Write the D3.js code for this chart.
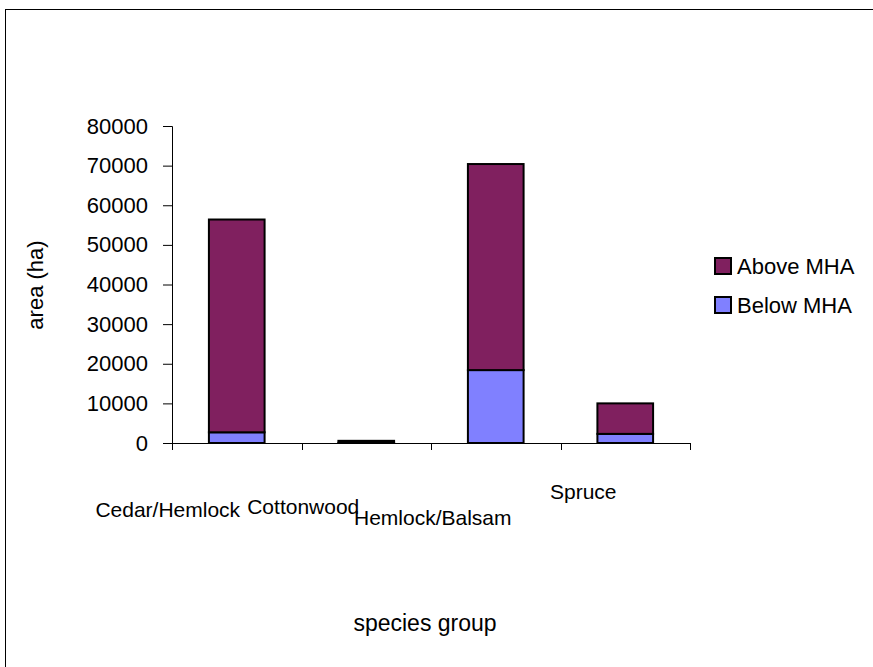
<!DOCTYPE html>
<html>
<head>
<meta charset="utf-8">
<script src="https://cdn.jsdelivr.net/npm/d3@7"></script>
<style>
  html, body { margin: 0; padding: 0; background: #fff; }
  svg { display: block; font-family: "Liberation Sans", Arial, sans-serif; }
</style>
</head>
<body>
<svg id="chart" width="873" height="667"></svg>
<script>
// Forest area by species group, split at the MHA threshold (hectares)
const categories = ["Cedar/Hemlock", "Cottonwood", "Hemlock/Balsam", "Spruce"];
const belowMHA = [2700, 50, 18400, 2300];
const aboveMHA = [53700, 500, 52000, 7700];
const seriesNames = ["Above MHA", "Below MHA"];
const yTicks = [0, 10000, 20000, 30000, 40000, 50000, 60000, 70000, 80000];

const colors = { "Above MHA": "#80205f", "Below MHA": "#8080ff" };

// Category labels sit staggered below the axis
const labelLayout = [
  { dx: -69, y: 517 },
  { dx: -63, y: 514 },
  { dx: -63, y: 525 },
  { dx: -42, y: 499 }
];

const svg = d3.select("#chart");
const W = 873, H = 667;
const plot = { left: 172, right: 690, top: 126, bottom: 443 };

// Outer chart border (runs off the right and bottom edges)
svg.append("rect")
  .attr("x", 5.5).attr("y", 9.5)
  .attr("width", W + 10).attr("height", H + 10)
  .attr("fill", "none").attr("stroke", "#000").attr("stroke-width", 1);

const x = d3.scaleBand().domain(categories).range([plot.left, plot.right]).padding(0);
const y = d3.scaleLinear().domain([0, 80000]).range([plot.bottom, plot.top]);

const rows = categories.map((c, i) => ({ cat: c, "Below MHA": belowMHA[i], "Above MHA": aboveMHA[i] }));
const stack = d3.stack().keys(["Below MHA", "Above MHA"])(rows);

// Y axis
const yAxis = d3.axisLeft(y).tickValues(yTicks).tickSize(9).tickPadding(15).tickFormat(d3.format("d"));
const gy = svg.append("g").attr("transform", `translate(${plot.left},0)`).call(yAxis);
gy.select(".domain").attr("stroke", "#000");
gy.selectAll(".tick line").attr("stroke", "#000");
gy.selectAll(".tick text").attr("font-size", 22).attr("fill", "#000")
  .attr("font-family", "Liberation Sans, Arial, sans-serif");

// X axis line and ticks at category boundaries
const bounds = categories.map(c => x(c)).concat([x(categories[categories.length - 1]) + x.bandwidth()]);
svg.append("line")
  .attr("x1", plot.left).attr("x2", plot.right)
  .attr("y1", y(0) + 0.5).attr("y2", y(0) + 0.5)
  .attr("stroke", "#000");
svg.selectAll(".xtick").data(bounds).enter().append("line")
  .attr("class", "xtick")
  .attr("x1", d => Math.round(d) + 0.5).attr("x2", d => Math.round(d) + 0.5)
  .attr("y1", y(0)).attr("y2", y(0) + 7)
  .attr("stroke", "#000");

// Stacked bars
const barW = x.bandwidth() * 0.43;
stack.forEach(layer => {
  svg.append("g").selectAll("rect").data(layer).enter().append("rect")
    .attr("x", d => x(d.data.cat) + (x.bandwidth() - barW) / 2)
    .attr("y", d => y(d[1]))
    .attr("width", barW)
    .attr("height", d => y(d[0]) - y(d[1]))
    .attr("fill", colors[layer.key])
    .attr("stroke", "#000")
    .attr("stroke-width", 2);
});

// Category labels
svg.selectAll(".catlabel").data(categories).enter().append("text")
  .attr("class", "catlabel")
  .attr("x", (d, i) => x(d) + x.bandwidth() / 2 + labelLayout[i].dx)
  .attr("y", (d, i) => labelLayout[i].y)
  .attr("text-anchor", "middle")
  .attr("font-size", 21)
  .attr("fill", "#000")
  .text(d => d);

// Axis titles
svg.append("text")
  .attr("transform", "translate(43,285) rotate(-90)")
  .attr("text-anchor", "middle")
  .attr("font-size", 22)
  .text("area (ha)");

svg.append("text")
  .attr("x", 425).attr("y", 631)
  .attr("text-anchor", "middle")
  .attr("font-size", 23)
  .text("species group");

// Legend
const legend = svg.append("g");
seriesNames.forEach((name, i) => {
  const ly = 266 + i * 39;
  legend.append("rect")
    .attr("x", 715).attr("y", ly - 8)
    .attr("width", 16).attr("height", 16)
    .attr("fill", colors[name]).attr("stroke", "#000").attr("stroke-width", 2);
  legend.append("text")
    .attr("x", 737).attr("y", ly + 8)
    .attr("font-size", 22)
    .text(name);
});
</script>
</body>
</html>
